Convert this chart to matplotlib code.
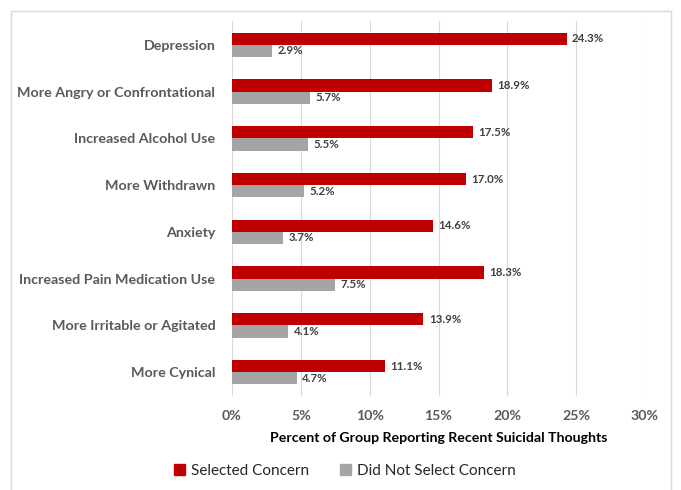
import matplotlib.pyplot as plt
import matplotlib.patches as mpatches
import numpy as np

categories = ["Depression", "More Angry or Confrontational", "Increased Alcohol Use",
              "More Withdrawn", "Anxiety", "Increased Pain Medication Use",
              "More Irritable or Agitated", "More Cynical"]
selected = [24.3, 18.9, 17.5, 17.0, 14.6, 18.3, 13.9, 11.1]
not_selected = [2.9, 5.7, 5.5, 5.2, 3.7, 7.5, 4.1, 4.7]
xticks = [0, 5, 10, 15, 20, 25, 30]

RED = "#C00000"
GREY = "#A5A5A5"
FONT = "Lato"

plt.rcParams["font.family"] = [FONT, "DejaVu Sans"]

fig = plt.figure(figsize=(6.81, 4.9), dpi=100)
ax = fig.add_axes([232 / 681, 1 - 395.5 / 490, (645 - 232) / 681, (395.5 - 21.5) / 490])

y = np.arange(len(categories))
h = 0.26
ax.barh(y - h / 2, selected, height=h, color=RED, zorder=3, label="Selected Concern")
ax.barh(y + h / 2, not_selected, height=h, color=GREY, zorder=3, label="Did Not Select Concern")

for yi, v in zip(y, selected):
    ax.text(v + 0.4, yi - h / 2, f"{v:.1f}%", va="center", ha="left",
            fontsize=8.3, fontweight="bold", color="#404040")
for yi, v in zip(y, not_selected):
    ax.text(v + 0.4, yi + h / 2, f"{v:.1f}%", va="center", ha="left",
            fontsize=8.3, fontweight="bold", color="#404040")

ax.set_ylim(len(categories) - 0.5, -0.5)
ax.set_xlim(0, 30)
ax.set_yticks(y)
ax.set_yticklabels(categories, fontsize=10.25, fontweight="bold", color="#595959")
ax.set_xticks(xticks)
ax.set_xticklabels([f"{t}%" for t in xticks], fontsize=10.2, fontweight="bold", color="#595959")
ax.tick_params(axis="y", length=0, pad=12)
ax.tick_params(axis="x", length=0, pad=10.5)
ax.grid(axis="x", color="#D9D9D9", linewidth=0.8, zorder=0)
for s in ax.spines.values():
    s.set_visible(False)

ax.set_xlabel("Percent of Group Reporting Recent Suicidal Thoughts", fontsize=10.2,
              fontweight="bold", color="black", labelpad=7)

handles = [mpatches.Patch(color=RED, label="Selected Concern"),
           mpatches.Patch(color=GREY, label="Did Not Select Concern")]
fig.legend(handles=handles, loc="center", bbox_to_anchor=(345 / 681, 1 - 471 / 490),
           ncol=2, frameon=False, fontsize=11, handlelength=0.7, handleheight=0.7,
           handletextpad=0.4, columnspacing=2.0, labelcolor="#262626")

border = mpatches.Rectangle((11 / 681, -0.1), (671 - 11) / 681, 1.1 - 11 / 490,
                            transform=fig.transFigure, fill=False,
                            edgecolor="#D9D9D9", linewidth=1.0)
fig.patches.append(border)

fig.savefig("out.png", dpi=100)
